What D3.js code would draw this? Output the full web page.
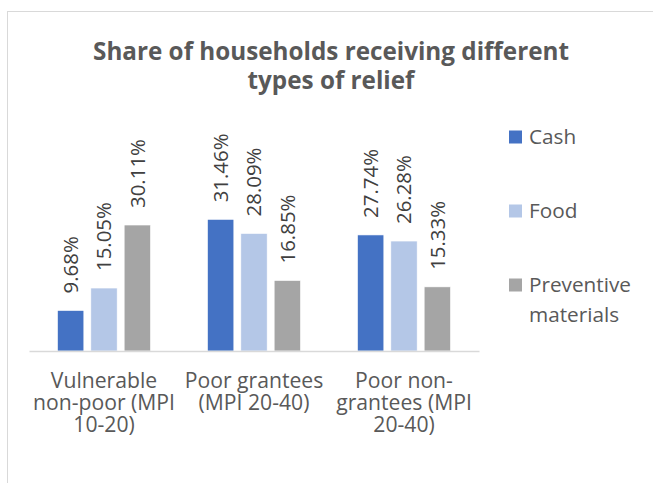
<!DOCTYPE html>
<html>
<head>
<meta charset="utf-8">
<script src="https://cdn.jsdelivr.net/npm/d3@7"></script>
<style>
  html, body { margin: 0; padding: 0; background: #ffffff; }
  svg { display: block; }
  text { font-family: "Open Sans", "Noto Sans", sans-serif; }
</style>
</head>
<body>
<svg id="chart" width="653" height="483"></svg>
<script>
const titleLines = ["Share of households receiving different", "types of relief"];
const categories = [
  ["Vulnerable", "non-poor (MPI", "10-20)"],
  ["Poor grantees", "(MPI 20-40)"],
  ["Poor non-", "grantees (MPI", "20-40)"]
];
const seriesNames = ["Cash", "Food", "Preventive materials"];
const legendLabels = [["Cash"], ["Food"], ["Preventive", "materials"]];
const cashValues = [0.0968, 0.3146, 0.2774];
const foodValues = [0.1505, 0.2809, 0.2628];
const preventiveValues = [0.3011, 0.1685, 0.1533];
const seriesColors = ["#4472C4", "#B4C7E7", "#A5A5A5"];

const allValues = [cashValues, foodValues, preventiveValues];
const catKeys = categories.map((c, i) => "c" + i);

const svg = d3.select("#chart");

// pick a font size so that a sample string reaches a target width
function fitSize(sample, weight, target) {
  const t = svg.append("text").attr("font-size", 20).attr("font-weight", weight).text(sample);
  const w = t.node().getComputedTextLength();
  t.remove();
  return 20 * target / w;
}
const titleSize = fitSize(titleLines[0], "bold", 476);
const labelSize = fitSize("31.46%", "normal", 69);
const catSize = fitSize("non-poor (MPI", "normal", 142);
const legSize = fitSize("Preventive", "normal", 102);

// chart border (only top/left visible in the crop)
svg.append("rect")
  .attr("x", 7.5).attr("y", 11.5)
  .attr("width", 800).attr("height", 800)
  .attr("fill", "none").attr("stroke", "#D9D9D9").attr("stroke-width", 1);

// title
svg.append("g").selectAll("text").data(titleLines).enter().append("text")
  .attr("x", 331)
  .attr("y", (d, i) => 60 + i * 28.5)
  .attr("text-anchor", "middle")
  .attr("font-weight", "bold")
  .attr("font-size", titleSize)
  .attr("fill", "#595959")
  .text(d => d);

const x0 = d3.scaleBand().domain(catKeys).range([29, 479])
  .paddingInner(0.38).paddingOuter(0.19);
const x1 = d3.scaleBand().domain(seriesNames).range([0, x0.bandwidth()])
  .paddingInner(0.21).paddingOuter(0);
const y = d3.scaleLinear().domain([0, 0.35]).range([351, 351 - 0.35 * 418.4]);

const groups = svg.append("g").selectAll("g").data(catKeys).enter().append("g")
  .attr("transform", d => `translate(${x0(d)},0)`);

groups.each(function(ck, ci) {
  const g = d3.select(this);
  const rows = seriesNames.map((s, si) => ({ s, si, v: allValues[si][ci] }));
  g.selectAll("rect").data(rows).enter().append("rect")
    .attr("x", d => x1(d.s))
    .attr("y", d => y(d.v))
    .attr("width", x1.bandwidth())
    .attr("height", d => y(0) - y(d.v))
    .attr("fill", d => seriesColors[d.si])
    .attr("stroke", "#ffffff").attr("stroke-width", 0.6);
  g.selectAll("text.lbl").data(rows).enter().append("text")
    .attr("class", "lbl")
    .attr("transform", d => `translate(${x1(d.s) + x1.bandwidth() / 2 + labelSize * 0.36},${y(d.v) - 17}) rotate(-90)`)
    .attr("text-anchor", "start")
    .attr("font-size", labelSize)
    .attr("fill", "#404040")
    .text(d => d3.format(".2%")(d.v));
});

// baseline axis
const xAxis = d3.axisBottom(x0).tickSize(0).tickFormat("");
const axG = svg.append("g").attr("transform", `translate(0,${y(0)})`).call(xAxis);
axG.select(".domain").attr("stroke", "#D9D9D9").attr("stroke-width", 1.3);

// category labels
const catG = svg.append("g");
catKeys.forEach((ck, ci) => {
  catG.append("text")
    .attr("x", x0(ck) + x0.bandwidth() / 2)
    .attr("y", 388)
    .attr("text-anchor", "middle")
    .attr("font-size", catSize)
    .attr("fill", "#595959")
    .selectAll("tspan").data(categories[ci]).enter().append("tspan")
    .attr("x", x0(ck) + x0.bandwidth() / 2)
    .attr("dy", (d, i) => i === 0 ? 0 : 22)
    .text(d => d);
});

// legend
const leg = svg.append("g").selectAll("g").data(seriesNames).enter().append("g")
  .attr("transform", (d, i) => `translate(509,${130.5 + i * 74})`);
leg.append("rect").attr("width", 13).attr("height", 13)
  .attr("fill", (d, i) => seriesColors[i]);
leg.append("text")
  .attr("x", 20).attr("y", 13.5)
  .attr("font-size", legSize).attr("fill", "#595959")
  .selectAll("tspan").data((d, i) => legendLabels[i]).enter().append("tspan")
  .attr("x", 20).attr("dy", (d, i) => i === 0 ? 0 : 30)
  .text(d => d);
</script>
</body>
</html>
